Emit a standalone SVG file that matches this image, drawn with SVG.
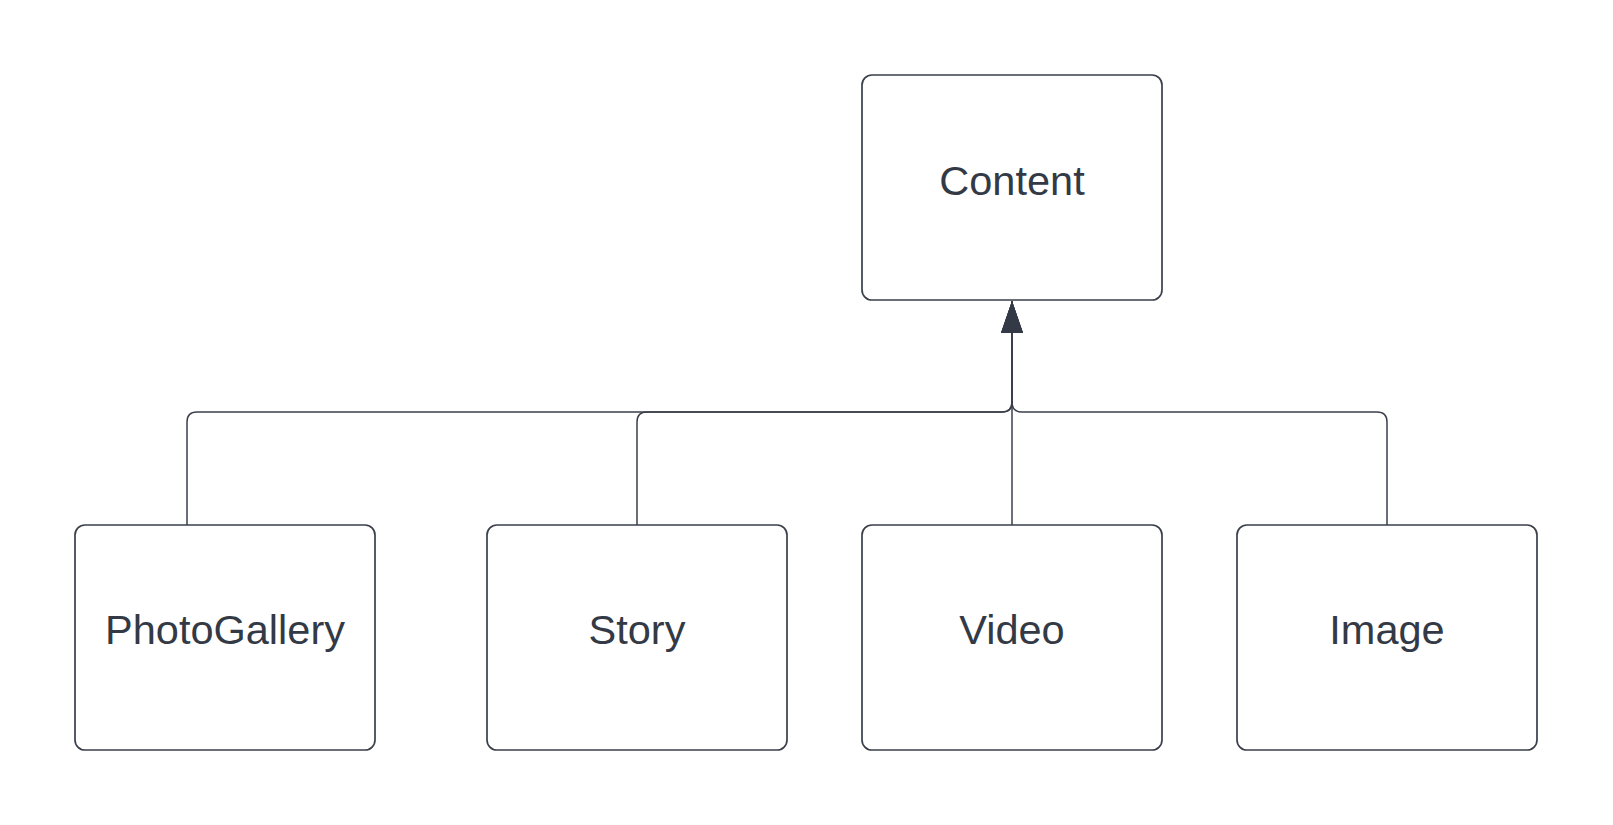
<svg xmlns="http://www.w3.org/2000/svg" width="1613" height="825" viewBox="0 0 1613 825">
<style>
.box{fill:#ffffff;stroke:#3a3f4a;stroke-width:1.7}
.lbl{font-family:"Liberation Sans",Arial,sans-serif;font-size:41.5px;fill:#333a45;text-anchor:middle}
.conn{fill:none;stroke:#3a3f4a;stroke-width:1.5}
</style>
<defs>
<marker id="tri" markerUnits="userSpaceOnUse" markerWidth="32" markerHeight="22" refX="32" refY="11" orient="auto" viewBox="0 0 32 22">
<path d="M0,0 L32,11 L0,22 Z" fill="#333a45"/>
</marker>
</defs>
<rect width="1613" height="825" fill="#ffffff"/>
<g id="connectors">
<path class="conn" d="M187,525 L187,422 Q187,412 197,412 L1002,412 Q1012,412 1012,402 L1012,301" marker-end="url(#tri)"/>
<path class="conn" d="M637,525 L637,422 Q637,412 647,412 L1002,412 Q1012,412 1012,402 L1012,301" marker-end="url(#tri)"/>
<path class="conn" d="M1012,525 L1012,301" stroke-width="1" marker-end="url(#tri)"/>
<path class="conn" d="M1387,525 L1387,422 Q1387,412 1377,412 L1022,412 Q1012,412 1012,402 L1012,301" marker-end="url(#tri)"/>
</g>
<g id="content"><rect class="box" x="862" y="75" width="300" height="225" rx="10"/><text class="lbl" x="1012" y="195">Content</text></g>
<g id="photogallery"><rect class="box" x="75" y="525" width="300" height="225" rx="10"/><text class="lbl" x="225" y="644">PhotoGallery</text></g>
<g id="story"><rect class="box" x="487" y="525" width="300" height="225" rx="10"/><text class="lbl" x="637" y="644">Story</text></g>
<g id="video"><rect class="box" x="862" y="525" width="300" height="225" rx="10"/><text class="lbl" x="1012" y="644">Video</text></g>
<g id="image"><rect class="box" x="1237" y="525" width="300" height="225" rx="10"/><text class="lbl" x="1387" y="644">Image</text></g>
</svg>
